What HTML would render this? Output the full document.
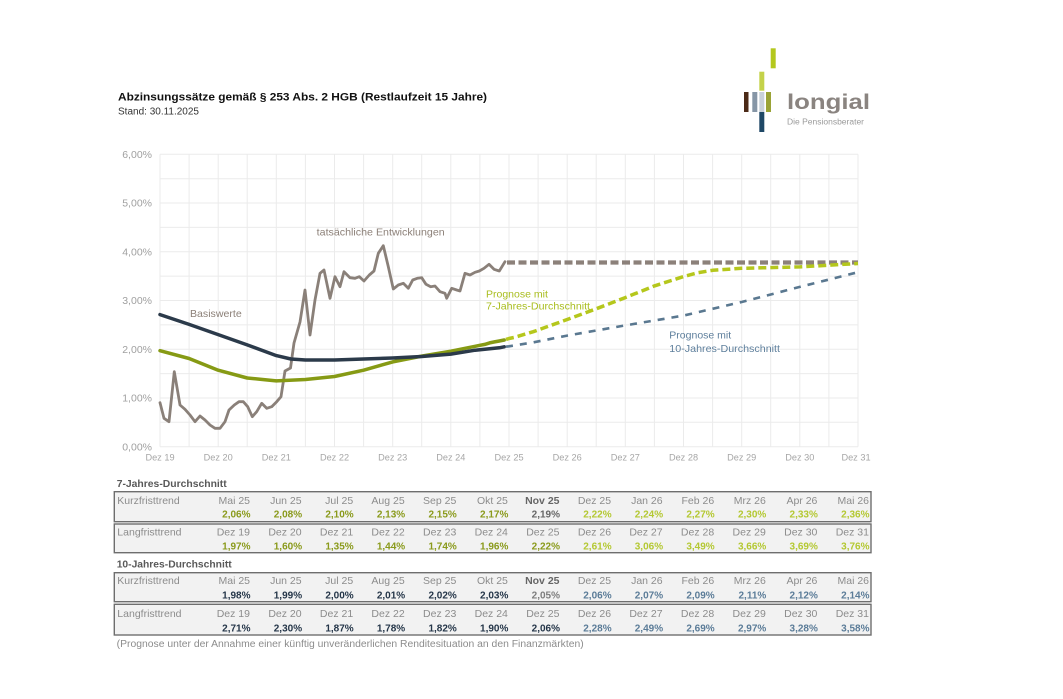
<!DOCTYPE html>
<html><head><meta charset="utf-8"><style>
html,body{margin:0;padding:0;background:#fff;}
svg{display:block;font-family:"Liberation Sans",Arial,sans-serif;}
</style></head><body>
<svg width="1063" height="699" viewBox="0 0 1063 699" xmlns="http://www.w3.org/2000/svg">
<rect width="1063" height="699" fill="#fff"/>
<!-- Title -->
<text x="118" y="100.5" font-size="11" font-weight="bold" fill="#111" textLength="369" lengthAdjust="spacingAndGlyphs">Abzinsungssätze gemäß § 253 Abs. 2 HGB (Restlaufzeit 15 Jahre)</text>
<text x="118" y="114.5" font-size="10" fill="#333">Stand: 30.11.2025</text>
<!-- Logo -->
<rect x="770.7" y="48.3" width="5" height="20" fill="#b4c81e"/>
<rect x="759.3" y="71.7" width="5" height="19" fill="#c4d24a"/>
<rect x="744" y="92" width="4.5" height="20" fill="#4b2a17"/>
<rect x="752.3" y="92" width="5" height="20" fill="#8696a6"/>
<rect x="759.3" y="92" width="5" height="20" fill="#c9d1d9"/>
<rect x="766" y="92" width="5" height="20" fill="#9aa336"/>
<rect x="759.3" y="112" width="5" height="20" fill="#1f4866"/>
<text x="787" y="109" font-size="21" font-weight="bold" fill="#8a8480" textLength="83" lengthAdjust="spacingAndGlyphs">longial</text>
<text x="787" y="124.5" font-size="8" fill="#9a9a9a" textLength="77" lengthAdjust="spacingAndGlyphs">Die Pensionsberater</text>

<!-- Grid -->
<g stroke="#ebebeb" stroke-width="1" fill="none">
<path d="M160 446.7H858M160 422.3H858M160 398H858M160 373.6H858M160 349.2H858M160 324.9H858M160 300.5H858M160 276.1H858M160 251.8H858M160 227.4H858M160 203H858M160 178.7H858M160 154.3H858"/>
<path d="M160 154.3V446.7M189.1 154.3V446.7M218.2 154.3V446.7M247.2 154.3V446.7M276.3 154.3V446.7M305.4 154.3V446.7M334.5 154.3V446.7M363.6 154.3V446.7M392.7 154.3V446.7M421.7 154.3V446.7M450.8 154.3V446.7M479.9 154.3V446.7M509 154.3V446.7M538.1 154.3V446.7M567.2 154.3V446.7M596.2 154.3V446.7M625.3 154.3V446.7M654.4 154.3V446.7M683.5 154.3V446.7M712.6 154.3V446.7M741.7 154.3V446.7M770.7 154.3V446.7M799.8 154.3V446.7M828.9 154.3V446.7M858 154.3V446.7"/>
</g>
<!-- Y labels -->
<g font-size="10.5" fill="#a0a0a0" text-anchor="end">
<text x="152" y="158">6,00%</text>
<text x="152" y="206.7">5,00%</text>
<text x="152" y="255.5">4,00%</text>
<text x="152" y="304.2">3,00%</text>
<text x="152" y="352.9">2,00%</text>
<text x="152" y="401.7">1,00%</text>
<text x="152" y="450.4">0,00%</text>
</g>
<!-- X labels -->
<g font-size="9.2" fill="#a6a6a6" text-anchor="middle">
<text x="160" y="460.5">Dez 19</text>
<text x="218.2" y="460.5">Dez 20</text>
<text x="276.3" y="460.5">Dez 21</text>
<text x="334.5" y="460.5">Dez 22</text>
<text x="392.7" y="460.5">Dez 23</text>
<text x="450.8" y="460.5">Dez 24</text>
<text x="509" y="460.5">Dez 25</text>
<text x="567.2" y="460.5">Dez 26</text>
<text x="625.3" y="460.5">Dez 27</text>
<text x="683.5" y="460.5">Dez 28</text>
<text x="741.7" y="460.5">Dez 29</text>
<text x="799.8" y="460.5">Dez 30</text>
<text x="856" y="460.5">Dez 31</text>
</g>

<!-- Series -->
<g fill="none" stroke-linejoin="round">
<!-- gray dashed -->
<path d="M507 262.5H858" stroke="#8c817a" stroke-width="4.2" stroke-dasharray="8,3.5"/>
<!-- green dashed -->
<polyline stroke="#b5c71c" stroke-width="3.5" stroke-dasharray="8,4" points="506,339.4 509,338.5 513.9,337.5 518.7,336.1 523.6,334.6 528.4,333.2 533.3,331.7 567.2,319.5 596.2,308.8 625.3,297.6 654.4,285.9 683.5,276.6 698,272.7 712.6,270.3 741.7,268.3 799.8,266.9 858,263.5"/>
<!-- navy dashed -->
<polyline stroke="#5a7890" stroke-width="2.6" stroke-dasharray="7,7" points="506,346.7 509,346.3 533.3,342.4 567.2,335.6 625.3,325.4 683.5,315.6 741.7,302 799.8,286.9 858,272.2"/>
<!-- gray actual -->
<polyline stroke="#8a8079" stroke-width="2.8" stroke-linecap="round" points="160,402.7 164,418.3 169,421.7 174.3,371.7 180,405 185,409.3 190,415 195,421.7 200,416 205,420 210,425 215,428.3 220,428.3 225,421.7 229,410 234.3,405 239,401.7 243.3,401.7 247.7,406.7 252.3,416.7 256.7,411.7 261.7,403.3 266.7,408.3 271.7,406.7 276.7,401.7 281,396.7 285,371 290.5,368 294,343 300,322 305,290 310,335 315,300 320,273.3 324,270 330,298.3 335,276.7 340,286.7 344,271.7 350,277.7 355,278.3 359.3,276.7 364,281 369.3,275 374,271 378.3,253.3 383.3,245.7 388.3,266.7 393.3,289 398.3,285 403.3,283.3 408.3,288.3 412.7,280 417.3,278.3 421.7,277.7 426,284.3 430.7,286.7 435,286 440,291.7 445,293.3 446.7,298.3 451.7,288.3 456.7,290 460,291 465,273.3 470,275 475,272.3 479.3,271 484,268.3 489,264.3 494,269.3 499.3,271 505,261.7"/>
<!-- green solid -->
<polyline stroke="#869a14" stroke-width="3.5" stroke-linecap="round" points="160,350.7 189.1,358.5 218.2,370.2 247.2,378 276.3,380.9 305.4,379.5 334.5,376.5 363.6,370.2 392.7,361.9 421.7,356.1 450.8,351.2 475.1,346.3 479.9,345.3 484.8,344.4 489.6,342.9 494.5,341.9 499.3,341 504.2,340"/>
<!-- navy solid -->
<polyline stroke="#2b3a4a" stroke-width="3.5" stroke-linecap="round" points="160,314.6 189.1,324.4 218.2,334.6 247.2,344.9 276.3,355.6 290.9,359 305.4,360 334.5,360 363.6,359 392.7,358 421.7,356.5 450.8,354.1 475.1,350.2 479.9,349.7 484.8,349.2 489.6,348.8 494.5,348.3 499.3,347.8 504.2,346.8"/>
</g>

<!-- Chart annotations -->
<text x="316.7" y="235.5" font-size="10.5" fill="#8c8078" textLength="128" lengthAdjust="spacingAndGlyphs">tatsächliche Entwicklungen</text>
<text x="190" y="317" font-size="10.5" fill="#8c8078" textLength="51.7" lengthAdjust="spacingAndGlyphs">Basiswerte</text>
<text x="486" y="297.7" font-size="10.5" fill="#a9bd1e">Prognose mit</text>
<text x="486" y="309.5" font-size="10.5" fill="#a9bd1e" textLength="104" lengthAdjust="spacingAndGlyphs">7-Jahres-Durchschnitt</text>
<text x="669.3" y="338.7" font-size="10.5" fill="#5e7f9c">Prognose mit</text>
<text x="669.3" y="352" font-size="10.5" fill="#5e7f9c" textLength="110.7" lengthAdjust="spacingAndGlyphs">10-Jahres-Durchschnitt</text>

<!-- Tables -->
<text x="116.7" y="487" font-size="10.5" font-weight="bold" fill="#595959" textLength="110" lengthAdjust="spacingAndGlyphs">7-Jahres-Durchschnitt</text>
<rect x="114.3" y="491.7" width="756.7" height="30" fill="#f2f2f2" stroke="#6e6e6e" stroke-width="1.4"/>
<rect x="114.3" y="524" width="756.7" height="28.7" fill="#f2f2f2" stroke="#6e6e6e" stroke-width="1.4"/>
<text x="117.3" y="504" font-size="10.5" fill="#8c8c8c">Kurzfristtrend</text>
<text x="117.3" y="535.5" font-size="10.5" fill="#8c8c8c">Langfristtrend</text>
<g font-size="10.5" fill="#8c8c8c" text-anchor="end">
<text x="250" y="504">Mai 25</text><text x="301.6" y="504">Jun 25</text><text x="353.2" y="504">Jul 25</text><text x="404.7" y="504">Aug 25</text><text x="456.3" y="504">Sep 25</text><text x="507.9" y="504">Okt 25</text><text x="559.5" y="504" font-weight="bold" fill="#666">Nov 25</text><text x="611.1" y="504">Dez 25</text><text x="662.6" y="504">Jan 26</text><text x="714.2" y="504">Feb 26</text><text x="765.8" y="504">Mrz 26</text><text x="817.4" y="504">Apr 26</text><text x="869" y="504">Mai 26</text>
<text x="250" y="535.5">Dez 19</text><text x="301.6" y="535.5">Dez 20</text><text x="353.2" y="535.5">Dez 21</text><text x="404.7" y="535.5">Dez 22</text><text x="456.3" y="535.5">Dez 23</text><text x="507.9" y="535.5">Dez 24</text><text x="559.5" y="535.5">Dez 25</text><text x="611.1" y="535.5">Dez 26</text><text x="662.6" y="535.5">Dez 27</text><text x="714.2" y="535.5">Dez 28</text><text x="765.8" y="535.5">Dez 29</text><text x="817.4" y="535.5">Dez 30</text><text x="869" y="535.5">Dez 31</text>
</g>
<g font-size="10" font-weight="bold" text-anchor="end">
<g fill="#8a9a1b">
<text x="250.5" y="517.7">2,06%</text><text x="302.1" y="517.7">2,08%</text><text x="353.7" y="517.7">2,10%</text><text x="405.2" y="517.7">2,13%</text><text x="456.8" y="517.7">2,15%</text><text x="508.4" y="517.7">2,17%</text>
<text x="250.5" y="549.7">1,97%</text><text x="302.1" y="549.7">1,60%</text><text x="353.7" y="549.7">1,35%</text><text x="405.2" y="549.7">1,44%</text><text x="456.8" y="549.7">1,74%</text><text x="508.4" y="549.7">1,96%</text><text x="560" y="549.7">2,22%</text>
</g>
<text x="560" y="517.7" fill="#666">2,19%</text>
<g fill="#b4c832">
<text x="611.6" y="517.7">2,22%</text><text x="663.1" y="517.7">2,24%</text><text x="714.7" y="517.7">2,27%</text><text x="766.3" y="517.7">2,30%</text><text x="817.9" y="517.7">2,33%</text><text x="869.5" y="517.7">2,36%</text>
<text x="611.6" y="549.7">2,61%</text><text x="663.1" y="549.7">3,06%</text><text x="714.7" y="549.7">3,49%</text><text x="766.3" y="549.7">3,66%</text><text x="817.9" y="549.7">3,69%</text><text x="869.5" y="549.7">3,76%</text>
</g>
</g>

<text x="116.7" y="567.7" font-size="10.5" font-weight="bold" fill="#595959" textLength="115" lengthAdjust="spacingAndGlyphs">10-Jahres-Durchschnitt</text>
<rect x="114.3" y="572.7" width="756.7" height="29" fill="#f2f2f2" stroke="#6e6e6e" stroke-width="1.4"/>
<rect x="114.3" y="604.3" width="756.7" height="30.7" fill="#f2f2f2" stroke="#6e6e6e" stroke-width="1.4"/>
<text x="117.3" y="584" font-size="10.5" fill="#8c8c8c">Kurzfristtrend</text>
<text x="117.3" y="617" font-size="10.5" fill="#8c8c8c">Langfristtrend</text>
<g font-size="10.5" fill="#8c8c8c" text-anchor="end">
<text x="250" y="584">Mai 25</text><text x="301.6" y="584">Jun 25</text><text x="353.2" y="584">Jul 25</text><text x="404.7" y="584">Aug 25</text><text x="456.3" y="584">Sep 25</text><text x="507.9" y="584">Okt 25</text><text x="559.5" y="584" font-weight="bold" fill="#666">Nov 25</text><text x="611.1" y="584">Dez 25</text><text x="662.6" y="584">Jan 26</text><text x="714.2" y="584">Feb 26</text><text x="765.8" y="584">Mrz 26</text><text x="817.4" y="584">Apr 26</text><text x="869" y="584">Mai 26</text>
<text x="250" y="617">Dez 19</text><text x="301.6" y="617">Dez 20</text><text x="353.2" y="617">Dez 21</text><text x="404.7" y="617">Dez 22</text><text x="456.3" y="617">Dez 23</text><text x="507.9" y="617">Dez 24</text><text x="559.5" y="617">Dez 25</text><text x="611.1" y="617">Dez 26</text><text x="662.6" y="617">Dez 27</text><text x="714.2" y="617">Dez 28</text><text x="765.8" y="617">Dez 29</text><text x="817.4" y="617">Dez 30</text><text x="869" y="617">Dez 31</text>
</g>
<g font-size="10" font-weight="bold" text-anchor="end">
<g fill="#253649">
<text x="250.5" y="598.5">1,98%</text><text x="302.1" y="598.5">1,99%</text><text x="353.7" y="598.5">2,00%</text><text x="405.2" y="598.5">2,01%</text><text x="456.8" y="598.5">2,02%</text><text x="508.4" y="598.5">2,03%</text>
<text x="250.5" y="631.3">2,71%</text><text x="302.1" y="631.3">2,30%</text><text x="353.7" y="631.3">1,87%</text><text x="405.2" y="631.3">1,78%</text><text x="456.8" y="631.3">1,82%</text><text x="508.4" y="631.3">1,90%</text><text x="560" y="631.3">2,06%</text>
</g>
<text x="560" y="598.5" fill="#7d7d7d">2,05%</text>
<g fill="#5b7c98">
<text x="611.6" y="598.5">2,06%</text><text x="663.1" y="598.5">2,07%</text><text x="714.7" y="598.5">2,09%</text><text x="766.3" y="598.5">2,11%</text><text x="817.9" y="598.5">2,12%</text><text x="869.5" y="598.5">2,14%</text>
<text x="611.6" y="631.3">2,28%</text><text x="663.1" y="631.3">2,49%</text><text x="714.7" y="631.3">2,69%</text><text x="766.3" y="631.3">2,97%</text><text x="817.9" y="631.3">3,28%</text><text x="869.5" y="631.3">3,58%</text>
</g>
</g>
<text x="116.7" y="647" font-size="10" fill="#8c8c8c" textLength="467" lengthAdjust="spacingAndGlyphs">(Prognose unter der Annahme einer künftig unveränderlichen Renditesituation an den Finanzmärkten)</text>
</svg>
</body></html>
